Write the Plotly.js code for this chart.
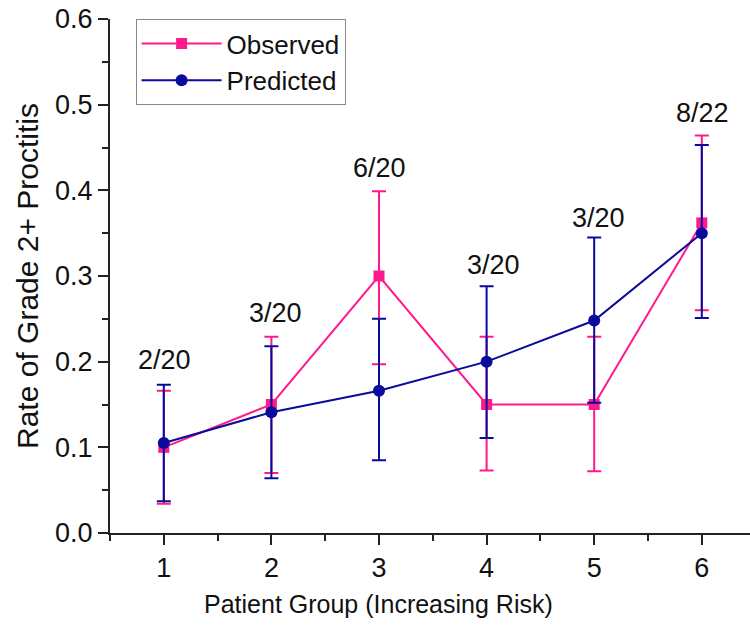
<!DOCTYPE html>
<html>
<head>
<meta charset="utf-8">
<script src="https://cdn.plot.ly/plotly-3.0.1.min.js"></script>
<style>html,body{margin:0;padding:0;background:#fff;}#chart{width:750px;height:633px;}</style>
</head>
<body>
<div id="chart"></div>
<script>
const groups = [1, 2, 3, 4, 5, 6];
const observed = [0.100, 0.150, 0.300, 0.150, 0.150, 0.362];
const observedUpper = [0.166, 0.229, 0.399, 0.229, 0.229, 0.464];
const observedLower = [0.034, 0.070, 0.197, 0.073, 0.072, 0.260];
const predicted = [0.105, 0.141, 0.166, 0.200, 0.248, 0.350];
const predictedUpper = [0.173, 0.218, 0.250, 0.288, 0.345, 0.453];
const predictedLower = [0.037, 0.064, 0.085, 0.111, 0.152, 0.251];
const countLabels = ['2/20', '3/20', '6/20', '3/20', '3/20', '8/22'];
const labelX = [1.01, 2.04, 3.0, 4.06, 5.04, 6.01];
const labelY = [0.202, 0.257, 0.426, 0.313, 0.368, 0.490];
const xTitle = 'Patient Group (Increasing Risk)';
const yTitle = 'Rate of Grade 2+ Proctitis';

const pink = '#ff1a8c';
const navy = '#0a0a9c';
const font = 'Liberation Sans, Arial, sans-serif';

function errs(vals, up, lo) {
  return {
    type: 'data', symmetric: false,
    array: vals.map((v, i) => up[i] - v),
    arrayminus: vals.map((v, i) => v - lo[i])
  };
}

const traces = [
  {
    x: groups, y: observed, name: 'Observed', type: 'scatter', mode: 'lines+markers',
    line: {color: pink, width: 2},
    marker: {symbol: 'square', size: 11, color: pink},
    error_y: Object.assign(errs(observed, observedUpper, observedLower), {color: pink, thickness: 2, width: 7})
  },
  {
    x: groups, y: predicted, name: 'Predicted', type: 'scatter', mode: 'lines+markers',
    line: {color: navy, width: 2},
    marker: {symbol: 'circle', size: 12, color: navy},
    error_y: Object.assign(errs(predicted, predictedUpper, predictedLower), {color: navy, thickness: 2, width: 7})
  }
];

const annotations = countLabels.map((t, i) => ({
  x: labelX[i], y: labelY[i], xref: 'x', yref: 'y', text: t, showarrow: false,
  font: {family: font, size: 27, color: '#111'}, xanchor: 'center', yanchor: 'middle'
}));
annotations.push({
  x: 0.419, y: 28, xref: 'paper', yref: 'paper', yshift: 0, text: xTitle, showarrow: false,
  font: {family: font, size: 25, color: '#111'}, xanchor: 'center', yanchor: 'middle'
});
annotations[annotations.length - 1].y = -0.139;

const layout = {
  width: 750, height: 633,
  margin: {l: 110, r: 0, t: 19, b: 100},
  paper_bgcolor: '#fff', plot_bgcolor: '#fff',
  showlegend: true,
  legend: {
    x: 0.04, y: 1.0, xanchor: 'left', yanchor: 'top',
    bordercolor: '#888', borderwidth: 1, bgcolor: '#fff',
    font: {family: font, size: 26, color: '#111'},
    itemwidth: 80, tracegroupgap: 0
  },
  xaxis: {
    range: [0.5, 6.448], tickvals: groups, ticks: 'outside', ticklen: 10, tickwidth: 2,
    tickcolor: '#222', showline: true, linecolor: '#222', linewidth: 2,
    showgrid: false, zeroline: false,
    minor: {dtick: 0.5, tick0: 0.5, ticks: 'outside', ticklen: 6, tickwidth: 2, tickcolor: '#222', showgrid: false},
    tickfont: {family: font, size: 27, color: '#111'}
  },
  yaxis: {
    range: [0, 0.6], dtick: 0.1, tickformat: '.1f', ticks: 'outside', ticklen: 10, tickwidth: 2,
    tickcolor: '#222', showline: true, linecolor: '#222', linewidth: 2,
    showgrid: false, zeroline: false,
    minor: {dtick: 0.05, ticks: 'outside', ticklen: 6, tickwidth: 2, tickcolor: '#222', showgrid: false},
    tickfont: {family: font, size: 27, color: '#111'},
    title: {text: yTitle, font: {family: font, size: 30, color: '#111'}, standoff: 8}
  },
  annotations: annotations
};

Plotly.newPlot('chart', traces, layout, {displayModeBar: false, staticPlot: true});
</script>
</body>
</html>
